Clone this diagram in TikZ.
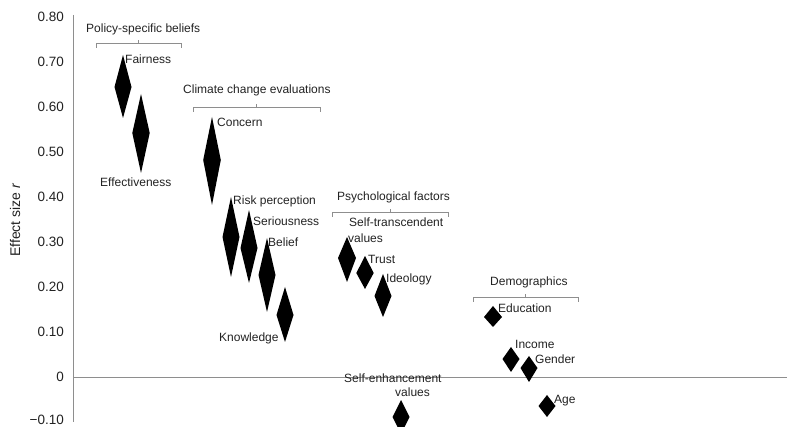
\documentclass[tikz,border=0pt]{standalone}
\usepackage{fontspec}
\setmainfont{Liberation Sans}
\definecolor{axisgray}{HTML}{8E8E8E}
\definecolor{txt}{HTML}{222222}
\tikzset{
  lab/.style={anchor=base west,inner sep=0pt,text=txt,font=\fontsize{12}{14}\selectfont},
  tick/.style={anchor=base east,inner sep=0pt,text=txt,font=\fontsize{13.5}{15}\selectfont},
  axis/.style={draw=axisgray,line width=0.9pt},
  brack/.style={draw=axisgray,line width=0.8pt},
  dmdfill/.style={fill=black}
}
\newcommand{\dmd}[6]{%
  \coordinate (#1) at (#2,#4);
  \fill[dmdfill] (#2,#3) -- (#2+#6,#4) -- (#2,#5) -- (#2-#6,#4) -- cycle;}
\newcommand{\brk}[5]{%
  \draw[brack] (#2,#4+5) -- (#2,#4) -- (#3,#4) -- (#3,#4+5);
  \draw[brack] (#5,#4) -- (#5,#4-3);
  \coordinate (#1) at (#5,#4);}
\begin{document}
\begin{tikzpicture}[x=1pt,y=-1pt]
\useasboundingbox (0,0) rectangle (787,427);
\clip (0,0) rectangle (787,427);
% axes
\coordinate (ytop) at (73,15);
\coordinate (ybot) at (73,422);
\coordinate (zl) at (73,377);
\coordinate (zr) at (787,377);
\draw[axis] (ytop) -- (ybot);
\draw[axis] (zl) -- (zr);
% tick labels
\node[tick] (t80) at (64,21.8) {0.80};
\node[tick] (t70) at (64,66.8) {0.70};
\node[tick] (t60) at (64,111.8) {0.60};
\node[tick] (t50) at (64,156.8) {0.50};
\node[tick] (t40) at (64,201.8) {0.40};
\node[tick] (t30) at (64,246.8) {0.30};
\node[tick] (t20) at (64,291.8) {0.20};
\node[tick] (t10) at (64,336.8) {0.10};
\node[tick] (t0) at (64,381.5) {0};
\node[tick] (tm10) at (64,424.3) {−0.10};
\node[inner sep=0pt,text=txt,rotate=90,font=\fontsize{14}{16}\selectfont] (ytitle) at (15,220) {Effect size \textit{r}};
% brackets
\brk{b1}{96}{181}{43}{138}
\brk{b2}{193}{320}{107}{256}
\brk{b3}{332}{448}{212}{390}
\brk{b4}{473}{578}{297}{525}
% group titles
\node[lab] (g1) at (86,32.3) {Policy-specific beliefs};
\node[lab] (g2) at (183,93.3) {Climate change evaluations};
\node[lab] (g3) at (337,200.3) {Psychological factors};
\node[lab] (g4) at (490,285.3) {Demographics};
% diamonds
\dmd{fair}{123}{55}{87}{118}{8.5}
\dmd{eff}{141}{94}{133}{173}{8.7}
\dmd{conc}{212}{117}{160}{205}{8.8}
\dmd{risk}{231}{197}{237}{277}{8.5}
\dmd{ser}{249}{210}{248}{283}{8.5}
\dmd{bel}{267}{238}{275}{312}{8.5}
\dmd{know}{285}{287}{315}{342}{8.5}
\dmd{strans}{347}{237}{258}{282}{9}
\dmd{trust}{365}{256}{273}{289}{8.7}
\dmd{ideo}{383}{274}{296}{317}{8.5}
\dmd{edu}{493}{306}{317}{327}{9}
\dmd{inc}{511}{347}{359}{372}{8.5}
\dmd{gen}{529}{356}{368}{382}{8.5}
\dmd{age}{547}{395}{406}{417}{8.5}
\dmd{senh}{401}{400}{417}{434}{8.5}
% labels
\node[lab] (lfair) at (125,63.3) {Fairness};
\node[lab] (leff) at (100,186.3) {Effectiveness};
\node[lab] (lconc) at (217,126.3) {Concern};
\node[lab] (lrisk) at (233,204.3) {Risk perception};
\node[lab] (lser) at (253,225.3) {Seriousness};
\node[lab] (lbel) at (268,246.3) {Belief};
\node[lab] (lknow) at (219,341.3) {Knowledge};
\node[lab] (lst1) at (349,226.3) {Self-transcendent};
\node[lab] (lst2) at (348,242.3) {values};
\node[lab] (ltrust) at (368,263.3) {Trust};
\node[lab] (lideo) at (386,282.3) {Ideology};
\node[lab] (ledu) at (498,312.3) {Education};
\node[lab] (linc) at (515,348.3) {Income};
\node[lab] (lgen) at (535,363.3) {Gender};
\node[lab] (lse1) at (344,382.3) {Self-enhancement};
\node[lab] (lse2) at (395,396.3) {values};
\node[lab] (lage) at (554,403.3) {Age};
\end{tikzpicture}
\end{document}
